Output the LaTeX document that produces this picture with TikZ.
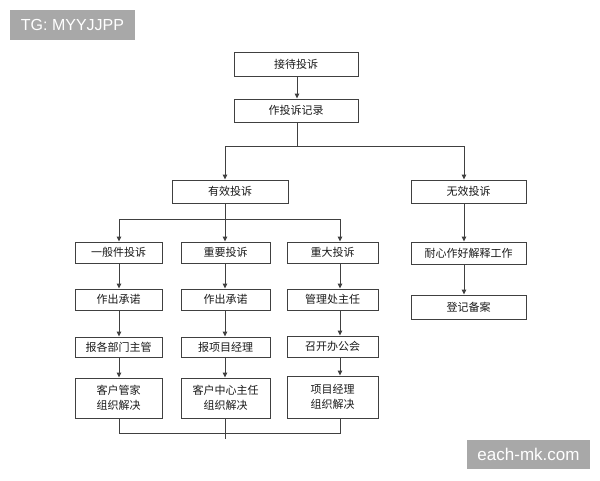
\documentclass[tikz,border=0pt]{standalone}
\usepackage{fontspec}
\setmainfont{Liberation Sans}
\newfontfamily\cjk{Noto Sans CJK SC}
\usetikzlibrary{arrows.meta}
\definecolor{boxc}{HTML}{404040}
\definecolor{linec}{HTML}{404040}
\definecolor{txtc}{HTML}{1A1A1A}
\definecolor{wmgray}{HTML}{A8A8A8}
\begin{document}
\begin{tikzpicture}[x=1pt,y=-1pt,
  box/.style={draw=boxc, line width=0.9pt, fill=white, inner sep=0pt,
    font=\cjk\fontsize{11}{15}\selectfont, text=txtc, align=center},
  ln/.style={draw=linec, line width=0.9pt},
  arr/.style={ln, -{Triangle[length=5pt,width=4.5pt]}},
  wm/.style={fill=wmgray, text=white, inner sep=0pt}]
\useasboundingbox[fill=white] (0,0) rectangle (600,480);

% watermarks
\node[wm, minimum width=125pt, minimum height=30pt, font=\fontsize{16}{16}\selectfont] (tg) at (72.5,25) {TG: MYYJJPP};
\node[wm, minimum width=123pt, minimum height=29pt, font=\fontsize{17}{17}\selectfont] (em) at (528.5,454.5) {each-mk.com};

% top
\node[box, minimum width=124pt, minimum height=24pt] (a) at (296,64) {接待投诉};
\node[box, minimum width=124pt, minimum height=23pt] (b) at (296,110.5) {作投诉记录};
\node[box, minimum width=116pt, minimum height=23pt] (yx) at (230,191.5) {有效投诉};
\node[box, minimum width=115pt, minimum height=23pt] (wx) at (468.5,191.5) {无效投诉};

% columns
\node[box, minimum width=87pt, minimum height=21pt] (c1r1) at (118.5,252.5) {一般件投诉};
\node[box, minimum width=87pt, minimum height=21pt] (c1r2) at (118.5,299.5) {作出承诺};
\node[box, minimum width=87pt, minimum height=20pt] (c1r3) at (118.5,347) {报各部门主管};
\node[box, minimum width=87pt, minimum height=40pt] (c1r4) at (118.5,398) {客户管家\\组织解决};

\node[box, minimum width=89pt, minimum height=21pt] (c2r1) at (225.5,252.5) {重要投诉};
\node[box, minimum width=89pt, minimum height=21pt] (c2r2) at (225.5,299.5) {作出承诺};
\node[box, minimum width=89pt, minimum height=20pt] (c2r3) at (225.5,347) {报项目经理};
\node[box, minimum width=89pt, minimum height=40pt] (c2r4) at (225.5,398) {客户中心主任\\组织解决};

\node[box, minimum width=91pt, minimum height=21pt] (c3r1) at (332.5,252.5) {重大投诉};
\node[box, minimum width=91pt, minimum height=21pt] (c3r2) at (332.5,299.5) {管理处主任};
\node[box, minimum width=91pt, minimum height=21pt] (c3r3) at (332.5,346.5) {召开办公会};
\node[box, minimum width=91pt, minimum height=42pt] (c3r4) at (332.5,397) {项目经理\\组织解决};

\node[box, minimum width=115pt, minimum height=22pt] (r1) at (468.5,253) {耐心作好解释工作};
\node[box, minimum width=115pt, minimum height=24pt] (r2) at (468.5,307) {登记备案};

% helper coordinates (connector columns and split levels)
\coordinate (xT) at (297,0);
\coordinate (xL) at (225,0);
\coordinate (xR) at (464,0);
\coordinate (x1) at (119,0);
\coordinate (x2) at (225,0);
\coordinate (x3) at (340,0);
\coordinate (s1) at (297,146);
\coordinate (s2) at (225,219);
\coordinate (s3) at (225,433);
\coordinate (s3e) at (225,439);

% connectors
\draw[arr] (xT |- a.south) -- (xT |- b.north);
\draw[ln] (xT |- b.south) -- (s1);
\draw[arr] (s1) -| (xL |- yx.north);
\draw[arr] (s1) -| (xR |- wx.north);

\draw[ln] (xL |- yx.south) -- (s2);
\draw[arr] (s2) -| (x1 |- c1r1.north);
\draw[arr] (s2) -- (x2 |- c2r1.north);
\draw[arr] (s2) -| (x3 |- c3r1.north);

\draw[arr] (x1 |- c1r1.south) -- (x1 |- c1r2.north);
\draw[arr] (x1 |- c1r2.south) -- (x1 |- c1r3.north);
\draw[arr] (x1 |- c1r3.south) -- (x1 |- c1r4.north);
\draw[arr] (x2 |- c2r1.south) -- (x2 |- c2r2.north);
\draw[arr] (x2 |- c2r2.south) -- (x2 |- c2r3.north);
\draw[arr] (x2 |- c2r3.south) -- (x2 |- c2r4.north);
\draw[arr] (x3 |- c3r1.south) -- (x3 |- c3r2.north);
\draw[arr] (x3 |- c3r2.south) -- (x3 |- c3r3.north);
\draw[arr] (x3 |- c3r3.south) -- (x3 |- c3r4.north);

\draw[arr] (xR |- wx.south) -- (xR |- r1.north);
\draw[arr] (xR |- r1.south) -- (xR |- r2.north);

\draw[ln] (x1 |- c1r4.south) -- (x1 |- s3) -- (x3 |- s3) -- (x3 |- c3r4.south);
\draw[ln] (x2 |- c2r4.south) -- (s3e);
\end{tikzpicture}
\end{document}
